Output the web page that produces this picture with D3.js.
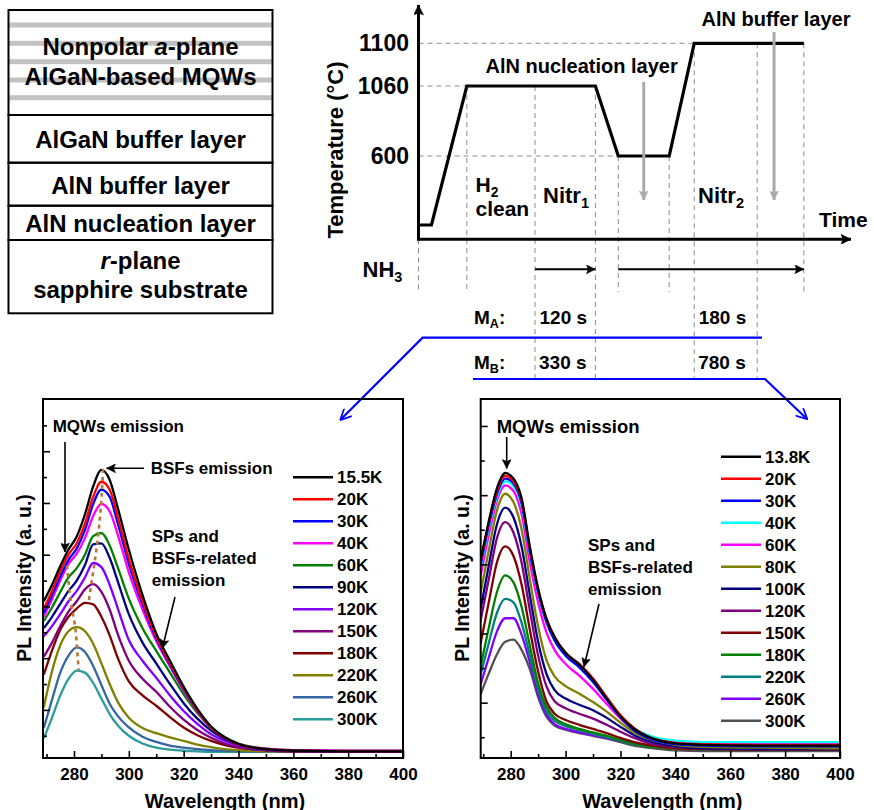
<!DOCTYPE html>
<html>
<head>
<meta charset="utf-8">
<script src="https://cdn.jsdelivr.net/npm/d3@7"></script>
<style>
  body { margin: 0; background: #fff; }
  svg { display: block; font-family: "Liberation Sans", Arial, sans-serif; font-weight: bold; }
</style>
</head>
<body>
<div id="viz"></div>
<script>
/*##############################################
#   Data                   #
##############################################*/

// Layer stack (top to bottom)
var layerNames = ["MQWs", "AlGaN buffer layer", "AlN buffer layer", "AlN nucleation layer", "substrate"];

// Growth temperature profile (schematic time units)
var profileTime = [0, 3, 11.2, 41, 46.3, 58.1, 63.9, 89.3];
var profileTemp = [25, 25, 1060, 1060, 600, 600, 1100, 1100];
var tempTicks = [600, 1060, 1100];
var eventTime = [0, 11.2, 27, 41, 46.3, 58.1, 63.9, 78.5, 89.3];
var eventTemp = [null, 1060, 1060, 1060, 600, 600, 1100, 1100, 1100];
var eventLong = [false, false, true, true, false, false, true, true, false];
var nh3Start = [27, 46.3];
var nh3End = [41, 89.3];
var durationsA = ["120 s", "180 s"];
var durationsB = ["330 s", "780 s"];

// PL spectra of sample M_A
var wlA = [269, 272, 275, 278, 281, 284, 287, 290, 293, 296, 300, 305, 310, 315, 320, 325, 330, 335, 340, 350, 360, 380, 400];
var labelsA = ["15.5K", "20K", "30K", "40K", "60K", "90K", "120K", "150K", "180K", "220K", "260K", "300K"];
var colorsA = ["#000000", "#ff0000", "#0000ff", "#ff00ff", "#008000", "#000080", "#8000ff", "#800080", "#800000", "#808000", "#3366a3", "#2a9c9c"];
var intensityA = [
  [3.10, 3.42, 3.78, 4.10, 4.35, 4.78, 5.32, 5.64, 5.45, 4.90, 4.10, 3.22, 2.48, 1.95, 1.45, 1.02, 0.68, 0.47, 0.34, 0.24, 0.21, 0.20, 0.20],
  [2.96, 3.30, 3.68, 4.00, 4.22, 4.60, 5.12, 5.41, 5.26, 4.72, 3.92, 3.10, 2.42, 1.90, 1.42, 0.99, 0.66, 0.46, 0.33, 0.24, 0.21, 0.20, 0.20],
  [2.88, 3.22, 3.58, 3.90, 4.12, 4.48, 4.98, 5.26, 5.12, 4.60, 3.82, 3.04, 2.38, 1.87, 1.40, 0.98, 0.66, 0.46, 0.33, 0.24, 0.21, 0.20, 0.20],
  [2.80, 3.14, 3.50, 3.82, 4.02, 4.32, 4.75, 4.98, 4.84, 4.38, 3.66, 2.94, 2.33, 1.84, 1.37, 0.97, 0.66, 0.46, 0.34, 0.25, 0.22, 0.21, 0.21],
  [2.72, 2.98, 3.28, 3.56, 3.74, 4.00, 4.36, 4.42, 4.18, 3.75, 3.15, 2.58, 2.14, 1.72, 1.30, 0.94, 0.66, 0.47, 0.35, 0.25, 0.22, 0.21, 0.21],
  [2.58, 2.80, 3.05, 3.30, 3.50, 3.80, 4.20, 4.22, 3.94, 3.48, 2.85, 2.30, 1.90, 1.50, 1.13, 0.83, 0.60, 0.44, 0.33, 0.24, 0.21, 0.20, 0.20],
  [2.42, 2.62, 2.85, 3.10, 3.30, 3.56, 3.84, 3.76, 3.42, 2.96, 2.35, 1.95, 1.62, 1.28, 0.98, 0.73, 0.53, 0.40, 0.31, 0.23, 0.21, 0.20, 0.20],
  [2.03, 2.30, 2.62, 2.90, 3.10, 3.33, 3.43, 3.28, 2.94, 2.46, 1.95, 1.60, 1.35, 1.06, 0.81, 0.61, 0.46, 0.35, 0.28, 0.22, 0.20, 0.20, 0.20],
  [1.68, 2.15, 2.55, 2.80, 2.96, 3.07, 3.04, 2.80, 2.44, 2.00, 1.55, 1.28, 1.08, 0.86, 0.66, 0.51, 0.40, 0.32, 0.27, 0.22, 0.20, 0.20, 0.20],
  [1.05, 1.75, 2.25, 2.52, 2.60, 2.52, 2.28, 1.90, 1.50, 1.15, 0.85, 0.65, 0.55, 0.47, 0.40, 0.33, 0.28, 0.24, 0.22, 0.20, 0.20, 0.20, 0.20],
  [0.65, 1.20, 1.72, 2.05, 2.21, 2.12, 1.85, 1.48, 1.12, 0.88, 0.66, 0.48, 0.38, 0.31, 0.27, 0.24, 0.22, 0.21, 0.20, 0.20, 0.20, 0.20, 0.20],
  [0.45, 0.85, 1.28, 1.60, 1.76, 1.72, 1.52, 1.22, 0.92, 0.70, 0.50, 0.35, 0.27, 0.23, 0.21, 0.20, 0.19, 0.19, 0.19, 0.19, 0.19, 0.19, 0.19]
];
// dotted guide lines through the peaks (M_A)
var bsfPeakWl = [290.6, 289.9, 288.9, 287.5, 286.3, 285.3];
var bsfPeakInt = [5.66, 4.98, 4.42, 3.84, 3.43, 3.07];
var mqwPeakWl = [277.4, 279.0, 280.5, 281.1, 281.7];
var mqwPeakInt = [3.80, 3.05, 2.58, 2.20, 1.76];

// PL spectra of sample M_B
var wlB = [269, 272, 275, 278, 281, 284, 287, 290, 293, 296, 300, 305, 310, 315, 320, 325, 330, 340, 350, 370, 400];
var labelsB = ["13.8K", "20K", "30K", "40K", "60K", "80K", "100K", "120K", "150K", "180K", "220K", "260K", "300K"];
var colorsB = ["#000000", "#ff0000", "#0000ff", "#00ffff", "#ff00ff", "#808000", "#000080", "#800080", "#800000", "#008000", "#008080", "#8000ff", "#505050"];
var intensityB = [
  [3.05, 3.62, 4.10, 4.32, 4.24, 3.95, 3.25, 2.65, 2.22, 1.95, 1.72, 1.55, 1.33, 1.06, 0.80, 0.62, 0.51, 0.41, 0.39, 0.38, 0.38],
  [3.02, 3.60, 4.06, 4.28, 4.20, 3.92, 3.22, 2.63, 2.21, 1.95, 1.72, 1.56, 1.35, 1.08, 0.82, 0.63, 0.51, 0.42, 0.40, 0.39, 0.39],
  [2.98, 3.56, 4.02, 4.24, 4.17, 3.88, 3.18, 2.60, 2.17, 1.90, 1.68, 1.51, 1.30, 1.04, 0.79, 0.60, 0.49, 0.40, 0.38, 0.37, 0.37],
  [2.94, 3.52, 3.98, 4.20, 4.13, 3.84, 3.16, 2.58, 2.16, 1.90, 1.69, 1.52, 1.31, 1.06, 0.81, 0.63, 0.53, 0.45, 0.43, 0.43, 0.43],
  [2.82, 3.42, 3.92, 4.14, 4.06, 3.72, 3.02, 2.45, 2.02, 1.76, 1.56, 1.39, 1.20, 0.98, 0.77, 0.61, 0.51, 0.44, 0.42, 0.41, 0.41],
  [2.58, 3.20, 3.78, 4.02, 3.90, 3.50, 2.78, 2.10, 1.62, 1.38, 1.24, 1.13, 1.01, 0.87, 0.71, 0.57, 0.48, 0.39, 0.36, 0.35, 0.34],
  [2.35, 2.98, 3.58, 3.82, 3.68, 3.25, 2.55, 1.88, 1.42, 1.18, 1.06, 0.97, 0.89, 0.78, 0.65, 0.53, 0.45, 0.37, 0.34, 0.33, 0.33],
  [2.18, 2.78, 3.38, 3.61, 3.46, 3.02, 2.33, 1.68, 1.24, 1.02, 0.92, 0.84, 0.77, 0.68, 0.58, 0.49, 0.42, 0.36, 0.34, 0.33, 0.33],
  [1.85, 2.45, 3.03, 3.26, 3.12, 2.70, 2.05, 1.45, 1.02, 0.84, 0.75, 0.68, 0.62, 0.56, 0.49, 0.43, 0.39, 0.34, 0.33, 0.32, 0.32],
  [1.52, 2.08, 2.60, 2.84, 2.74, 2.38, 1.82, 1.28, 0.94, 0.78, 0.69, 0.62, 0.57, 0.52, 0.46, 0.41, 0.37, 0.34, 0.33, 0.33, 0.33],
  [1.40, 1.86, 2.30, 2.50, 2.45, 2.15, 1.68, 1.20, 0.88, 0.74, 0.66, 0.60, 0.55, 0.50, 0.45, 0.40, 0.37, 0.34, 0.33, 0.33, 0.33],
  [1.26, 1.65, 2.03, 2.22, 2.22, 1.98, 1.58, 1.13, 0.83, 0.69, 0.62, 0.57, 0.53, 0.49, 0.45, 0.41, 0.38, 0.36, 0.36, 0.36, 0.36],
  [1.12, 1.42, 1.70, 1.88, 1.91, 1.76, 1.48, 1.08, 0.80, 0.67, 0.61, 0.56, 0.52, 0.48, 0.43, 0.38, 0.35, 0.31, 0.30, 0.30, 0.30]
];

var xMajor = [280, 300, 320, 340, 360, 380, 400];
var xMinor = [270, 290, 310, 330, 350, 370, 390];

/*##############################################
#   SVG + markers                              #
##############################################*/

var svg = d3.select("#viz").append("svg")
    .attr("width", 874)
    .attr("height", 810);

var defs = svg.append("defs");

// arrow heads, filled or open
function addMarker(id, color, len, wid, open) {
    defs.append("marker")
        .attr("id", id)
        .attr("viewBox", "0 0 10 10")
        .attr("refX", open ? 9 : 10)
        .attr("refY", 5)
        .attr("markerUnits", "userSpaceOnUse")
        .attr("markerWidth", len)
        .attr("markerHeight", wid)
        .attr("orient", "auto")
        .append("path")
        .attr("d", open ? "M0,0 L10,5 L0,10" : "M0,0 L10,5 L0,10 L2,5 z")
        .attr("fill", open ? "none" : color)
        .attr("stroke", color)
        .attr("stroke-width", open ? 1.6 : 0.5);
}
addMarker("arrBlack", "#000", 13, 9, false);
addMarker("arrAxis", "#000", 14, 10, false);
addMarker("arrGrey", "#aaa", 14, 9, false);
addMarker("arrBlue", "#0000ff", 12, 11, true);

function arrow(x1, y1, x2, y2, color, width, marker) {
    svg.append("line")
        .attr("x1", x1).attr("y1", y1)
        .attr("x2", x2).attr("y2", y2)
        .attr("stroke", color)
        .attr("stroke-width", width)
        .attr("marker-end", "url(#" + marker + ")");
}

// text with an optional subscript part
function label(x, y, main, sub, size, anchor, after) {
    var t = svg.append("text")
        .attr("x", x).attr("y", y)
        .attr("font-size", size)
        .attr("text-anchor", anchor || "start")
        .text(main);
    if (sub) {
        t.append("tspan").attr("font-size", size * 0.66).attr("dy", size * 0.22).text(sub);
        if (after) t.append("tspan").attr("dy", -size * 0.22).text(after);
    }
    return t;
}

/*##############################################
#   Layer stack (top left)                     #
##############################################*/

var stackX0 = 8.5, stackX1 = 272.5;
var stackBounds = [10, 115, 162.7, 205.7, 240, 313.3];
var stripeY = [25, 43.3, 61.7, 80, 97.7];

svg.selectAll(".stripe").data(stripeY).enter().append("rect")
    .attr("x", stackX0).attr("y", function(d) { return d - 2.5; })
    .attr("width", stackX1 - stackX0).attr("height", 5)
    .attr("fill", "#c2c2c2");

svg.selectAll(".layer").data(layerNames).enter().append("rect")
    .attr("x", stackX0)
    .attr("y", function(d, i) { return stackBounds[i]; })
    .attr("width", stackX1 - stackX0)
    .attr("height", function(d, i) { return stackBounds[i + 1] - stackBounds[i]; })
    .attr("fill", "none").attr("stroke", "#000").attr("stroke-width", 2);

var cx = (stackX0 + stackX1) / 2;
var t1 = svg.append("text").attr("x", cx).attr("y", 55).attr("font-size", 24).attr("text-anchor", "middle");
t1.append("tspan").text("Nonpolar ");
t1.append("tspan").attr("font-style", "italic").text("a");
t1.append("tspan").text("-plane");
label(cx, 85, "AlGaN-based MQWs", null, 24, "middle");
label(cx, 147.5, "AlGaN buffer layer", null, 24, "middle");
label(cx, 193.5, "AlN buffer layer", null, 24, "middle");
label(cx, 232, "AlN nucleation layer", null, 24, "middle");
var t2 = svg.append("text").attr("x", cx).attr("y", 268.5).attr("font-size", 24).attr("text-anchor", "middle");
t2.append("tspan").attr("font-style", "italic").text("r");
t2.append("tspan").text("-plane");
label(cx, 298, "sapphire substrate", null, 24, "middle");

/*##############################################
#   Temperature profile (top right)            #
##############################################*/

var tx = d3.scaleLinear().domain([0, 100]).range([418.5, 850]);
var ty = d3.scaleLinear().domain([25, 600, 1060, 1100]).range([225, 156, 86, 43.3]);
var axisY = 239.3;

// dashed guides
svg.selectAll(".hguide").data(tempTicks).enter().append("line")
    .attr("x1", tx(0)).attr("x2", function(d) {
        return tx(profileTime[profileTemp.indexOf(d)]);
    })
    .attr("y1", function(d) { return ty(d); })
    .attr("y2", function(d) { return ty(d); })
    .attr("stroke", "#8c8c8c").attr("stroke-width", 1).attr("stroke-dasharray", "5,4");

svg.selectAll(".vguide").data(eventTime).enter().append("line")
    .attr("x1", function(d) { return tx(d); })
    .attr("x2", function(d) { return tx(d); })
    .attr("y1", function(d, i) { return eventTemp[i] ? ty(eventTemp[i]) : axisY; })
    .attr("y2", function(d, i) { return eventLong[i] ? 379 : 292; })
    .attr("stroke", "#8c8c8c").attr("stroke-width", 1).attr("stroke-dasharray", "5,4");

// axes with arrows
arrow(tx(0), axisY + 1, tx(0), 5, "#000", 3, "arrAxis");
arrow(tx(0) - 1.5, axisY, 851, axisY, "#000", 3, "arrAxis");

svg.append("path")
    .datum(profileTime)
    .attr("d", d3.line()
        .x(function(d) { return tx(d); })
        .y(function(d, i) { return ty(profileTemp[i]); }))
    .attr("fill", "none").attr("stroke", "#000").attr("stroke-width", 3.2)
    .attr("stroke-linejoin", "miter");

svg.selectAll(".tlab").data(tempTicks).enter().append("text")
    .attr("x", 409).attr("y", function(d) { return ty(d) + 8; })
    .attr("text-anchor", "end").attr("font-size", 23)
    .text(function(d) { return d; });

svg.append("text")
    .attr("transform", "translate(343,150) rotate(-90)")
    .attr("text-anchor", "middle").attr("font-size", 22)
    .text("Temperature (\u00B0C)");

label(819, 227, "Time", null, 21);
label(475.5, 192, "H", "2", 21);
label(475.5, 216, "clean", null, 21);
label(543, 203, "Nitr", "1", 22);
label(698, 203, "Nitr", "2", 22);
label(485.5, 72.5, "AlN nucleation layer", null, 20);
label(701.5, 26, "AlN buffer layer", null, 20);

// grey growth arrows
arrow(tx(52.2), 82, tx(52.2), 200, "#aaa", 3, "arrGrey");
arrow(tx(82.4), 32, tx(82.4), 200, "#aaa", 3, "arrGrey");

// NH3 flow
label(362.5, 277, "NH", "3", 22);
nh3Start.forEach(function(s, i) {
    arrow(tx(s), 269.3, tx(nh3End[i]), 269.3, "#000", 2, "arrBlack");
});

// durations of the two samples
label(474, 324, "M", "A", 19, "start", ":");
label(474, 369, "M", "B", 19, "start", ":");
durationsA.forEach(function(d, i) {
    label(tx([27, 63.9][i]) + 4.5, 324, d, null, 19);
});
durationsB.forEach(function(d, i) {
    label(tx([27, 63.9][i]) + 4, 369, d, null, 19);
});

// blue connectors to the spectra
svg.append("polyline")
    .attr("points", "762,337.7 422.6,337.7 341,419.3")
    .attr("fill", "none").attr("stroke", "#0000ff").attr("stroke-width", 2.2)
    .attr("marker-end", "url(#arrBlue)");
svg.append("polyline")
    .attr("points", "473,379 765,379 806.5,418.5")
    .attr("fill", "none").attr("stroke", "#0000ff").attr("stroke-width", 2.2)
    .attr("marker-end", "url(#arrBlue)");

/*##############################################
#   PL spectra panels                          #
##############################################*/

function drawPanel(p) {
    var x = d3.scaleLinear().domain(p.xDomain).range([p.left, p.right]);
    var y = d3.scaleLinear().domain(p.yDomain).range([p.bottom, p.top]);

    defs.append("clipPath").attr("id", p.id + "Clip").append("rect")
        .attr("x", p.left).attr("y", p.top)
        .attr("width", p.right - p.left).attr("height", p.bottom - p.top);

    var line = d3.line()
        .x(function(d, i) { return x(p.wl[i]); })
        .y(function(d) { return y(d); })
        .curve(d3.curveMonotoneX);

    var g = svg.append("g").attr("clip-path", "url(#" + p.id + "Clip)");

    // draw the coldest spectrum last so it sits on top
    var order = p.series.map(function(s, i) { return i; }).reverse();
    g.selectAll(".spec").data(order).enter().append("path")
        .attr("d", function(i) { return line(p.series[i]); })
        .attr("fill", "none")
        .attr("stroke", function(i) { return p.colors[i]; })
        .attr("stroke-width", 2.3);

    if (p.guides) {
        p.guides.forEach(function(gd) {
            g.append("path")
                .datum(gd.wl)
                .attr("d", d3.line()
                    .x(function(d) { return x(d); })
                    .y(function(d, i) { return y(gd.val[i]); })
                    .curve(d3.curveMonotoneY))
                .attr("fill", "none").attr("stroke", "#b87638")
                .attr("stroke-width", 2.6).attr("stroke-dasharray", "4,4");
        });
    }

    // axes, ticks inside
    function styleAxis(sel) {
        sel.select(".domain").remove();
        sel.selectAll(".tick line").attr("stroke", "#000").attr("stroke-width", 1.6);
        sel.selectAll("text").attr("font-size", 17).attr("font-weight", "bold")
            .attr("font-family", "'Liberation Sans', Arial, sans-serif").attr("fill", "#000");
    }
    svg.append("g").attr("transform", "translate(0," + p.bottom + ")")
        .call(d3.axisBottom(x).tickValues(xMajor).tickSize(-7).tickPadding(10).tickFormat(d3.format("d")))
        .call(styleAxis);
    svg.append("g").attr("transform", "translate(0," + p.bottom + ")")
        .call(d3.axisBottom(x).tickValues(xMinor).tickSize(-4).tickFormat(""))
        .call(styleAxis);
    svg.append("g").attr("transform", "translate(" + p.left + ",0)")
        .call(d3.axisLeft(y).tickValues(p.yMajor).tickSize(-7).tickFormat(""))
        .call(styleAxis);
    svg.append("g").attr("transform", "translate(" + p.left + ",0)")
        .call(d3.axisLeft(y).tickValues(p.yMinor).tickSize(-4).tickFormat(""))
        .call(styleAxis);

    svg.append("rect")
        .attr("x", p.left).attr("y", p.top)
        .attr("width", p.right - p.left).attr("height", p.bottom - p.top)
        .attr("fill", "none").attr("stroke", "#000").attr("stroke-width", 2);

    svg.append("text")
        .attr("x", (p.left + p.right) / 2 + 2).attr("y", 808)
        .attr("text-anchor", "middle").attr("font-size", 20)
        .text("Wavelength (nm)");
    svg.append("text")
        .attr("transform", "translate(" + (p.left - 12) + ",578) rotate(-90)")
        .attr("text-anchor", "middle").attr("font-size", 19.5)
        .text("PL Intensity (a. u.)");

    // legend
    var lg = svg.append("g");
    p.labels.forEach(function(name, i) {
        var yy = p.legendY + i * 22;
        lg.append("line")
            .attr("x1", p.legendX).attr("x2", p.legendX + 40)
            .attr("y1", yy).attr("y2", yy)
            .attr("stroke", p.colors[i]).attr("stroke-width", 2.6);
        lg.append("text")
            .attr("x", p.legendX + 44).attr("y", yy + 6)
            .attr("font-size", 17).text(name);
    });
}

drawPanel({
    id: "A", left: 43, right: 403, top: 399, bottom: 758,
    xDomain: [268.7, 400], yDomain: [0.07, 7.01],
    yMajor: [1, 2, 3, 4, 5, 6], yMinor: [0.5, 1.5, 2.5, 3.5, 4.5, 5.5, 6.5],
    wl: wlA, series: intensityA, colors: colorsA, labels: labelsA,
    legendX: 293, legendY: 477.3,
    guides: [{ wl: bsfPeakWl, val: bsfPeakInt }, { wl: mqwPeakWl, val: mqwPeakInt }]
});

drawPanel({
    id: "B", left: 480.7, right: 840, top: 399, bottom: 758,
    xDomain: [269.07, 400], yDomain: [0.2, 5.39],
    yMajor: [1, 2, 3, 4, 5], yMinor: [0.5, 1.5, 2.5, 3.5, 4.5],
    wl: wlB, series: intensityB, colors: colorsB, labels: labelsB,
    legendX: 721, legendY: 456.7
});

// annotations, sample M_A
label(52.7, 431.7, "MQWs emission", null, 17);
arrow(65, 442, 65, 552, "#000", 1.6, "arrBlack");
label(150.7, 474, "BSFs emission", null, 17);
arrow(144, 468.3, 106.5, 468.3, "#000", 1.6, "arrBlack");
label(151.7, 541.7, "SPs and", null, 17);
label(151.7, 564, "BSFs-related", null, 17);
label(151.7, 586.3, "emission", null, 17);
arrow(175, 597, 162.3, 648.5, "#000", 1.6, "arrBlack");

// annotations, sample M_B
label(496.7, 432.7, "MQWs emission", null, 18.5);
arrow(506.7, 437, 506.7, 468.5, "#000", 1.6, "arrBlack");
label(588, 550.7, "SPs and", null, 17);
label(588, 573.3, "BSFs-related", null, 17);
label(588, 595.3, "emission", null, 17);
arrow(599, 604, 584, 667, "#000", 1.6, "arrBlack");
</script>
</body>
</html>
